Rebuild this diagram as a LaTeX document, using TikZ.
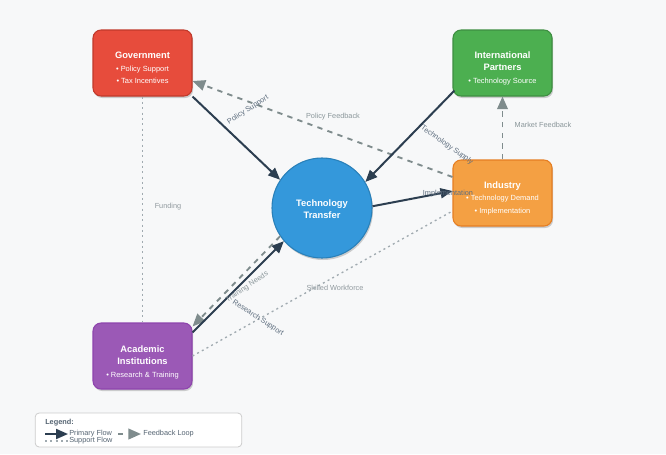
\documentclass[tikz,border=0pt]{standalone}
\usepackage{fontspec}
\setmainfont{Liberation Sans}
\usetikzlibrary{arrows.meta,calc,shadows}
\definecolor{bgc}{HTML}{F7F8F9}
\definecolor{govc}{HTML}{E74C3C}\definecolor{govb}{HTML}{C0392B}
\definecolor{ipc}{HTML}{4CAF50}\definecolor{ipb}{HTML}{3E8E41}
\definecolor{indc}{HTML}{F4A043}\definecolor{indb}{HTML}{E67E22}
\definecolor{acc}{HTML}{9B59B6}\definecolor{acb}{HTML}{8E44AD}
\definecolor{ttc}{HTML}{3498DB}\definecolor{ttb}{HTML}{2980B9}
\definecolor{darkc}{HTML}{2C3E50}
\definecolor{fbc}{HTML}{7F8C8D}
\definecolor{supc}{HTML}{A0AAB0}
\definecolor{plc}{HTML}{5D6D7E}
\definecolor{flc}{HTML}{8A969A}
\newcommand{\ttlfont}{\bfseries\fontsize{7}{9.4}\selectfont}
\begin{document}
\begin{tikzpicture}[x=0.75pt,y=-0.75pt,
  box/.style={rectangle, rounded corners=6pt, minimum width=74.25pt, minimum height=49.5pt, inner sep=0pt, line width=0.8pt,
    drop shadow={shadow xshift=0.8pt, shadow yshift=-1.5pt, opacity=0.18, fill=black}},
  boxtxt/.style={align=center, text=white, inner sep=0pt, font=\fontsize{5.6}{9.4}\selectfont},
  primary/.style={draw=darkc, line width=1.5pt, -{Triangle[length=9pt,width=7.5pt]}},
  feedback/.style={draw=fbc, line width=1.4pt, dash pattern=on 4pt off 4pt, -{Triangle[length=9.5pt,width=8pt]}},
  support/.style={draw=supc, line width=1pt, dash pattern=on 1.5pt off 2.5pt},
  plabel/.style={text=plc, inner sep=0pt, font=\fontsize{5.5}{6.5}\selectfont},
  flabel/.style={text=flc, inner sep=0pt, font=\fontsize{5.5}{6.5}\selectfont},
  slabel/.style={text=supc!90!black, inner sep=0pt, font=\fontsize{5.5}{6.5}\selectfont},
  lgtext/.style={text=darkc!80, inner sep=0pt, anchor=west, font=\fontsize{5.5}{6.5}\selectfont}
]
\fill[bgc] (0,0) rectangle (666,454);
\useasboundingbox (0,0) rectangle (666,454);

% nodes
\node[box, fill=govc, draw=govb] (gov) at (142.5,63) {};
\node[box, fill=ipc, draw=ipb] (ip) at (502.5,63) {};
\node[box, fill=indc, draw=indb] (ind) at (502.5,193) {};
\node[box, fill=acc, draw=acb] (acad) at (142.5,356) {};
\node[circle, fill=ttc, draw=ttb, line width=0.8pt, minimum size=75pt, inner sep=0pt,
  drop shadow={shadow xshift=0.8pt, shadow yshift=-1.5pt, opacity=0.18, fill=black}] (tt) at (322,208) {};

\node[boxtxt] (govt) at (142.5,68) {{\ttlfont Government}\\• Policy Support\\• Tax Incentives};
\node[boxtxt] (ipt) at (502.5,68) {{\ttlfont International}\\{\ttlfont Partners}\\• Technology Source};
\node[boxtxt] (indt) at (502.5,198) {{\ttlfont Industry}\\• Technology Demand\\• Implementation};
\node[boxtxt] (acadt) at (142.5,362) {{\ttlfont Academic}\\{\ttlfont Institutions}\\• Research \& Training};
\node[boxtxt] (ttt) at (322,209) {{\ttlfont Technology}\\{\ttlfont Transfer}};

% connectors
\draw[support] (gov.south) -- (acad.north);
\draw[support] (acad.east) -- ($(ind.west)+(0,18)$);
\draw[feedback] ($(ind.west)+(0,-16)$) -- ($(gov.east)+(0,18)$);
\draw[feedback] (ind.north) -- (ip.south);
\draw[feedback] (tt.214) -- ($(acad.north east)+(0,4)$);
\draw[primary] (gov.south east) -- (tt.146);
\draw[primary] ($(ip.south west)+(2,-6)$) -- (tt.31);
\draw[primary] (tt.2) -- ($(ind.west)+(0,-2)$);
\draw[primary] ($(acad.north east)+(0,10)$) -- (tt.221);

% labels
\node[plabel, rotate=33] (lps) at (248,110) {Policy Support};
\node[flabel] (lpf) at (333,117) {Policy Feedback};
\node[plabel, rotate=-35] (lts) at (447,145) {Technology Supply};
\node[flabel] (lmf) at (543,125) {Market Feedback};
\node[plabel] (lim) at (448,194) {Implementation};
\node[slabel] (lsw) at (335,288) {Skilled Workforce};
\node[slabel] (lfu) at (168,207) {Funding};
\node[plabel, rotate=-33] (lrs) at (258,318) {Research Support};
\node[flabel, rotate=34] (ltn) at (247,287) {Training Needs};

% legend
\node[draw=black!20, fill=white, rounded corners=3pt, line width=0.6pt, minimum width=155pt, minimum height=25.5pt, inner sep=0pt] (leg) at (138.5,430) {};
\node[lgtext, font=\bfseries\fontsize{5.5}{6.5}\selectfont] (legt) at (45,423) {Legend:};
\coordinate (a1) at (45,434); \coordinate (a2) at (68,434);
\coordinate (b1) at (118,434); \coordinate (b2) at (141,434);
\coordinate (c1) at (45,441); \coordinate (c2) at (68,441);
\draw[primary] (a1) -- (a2);
\draw[feedback] (b1) -- (b2);
\draw[support] (c1) -- (c2);
\node[lgtext] (lg1) at (69,434) {Primary Flow};
\node[lgtext] (lg2) at (143,434) {Feedback Loop};
\node[lgtext] (lg3) at (69,441) {Support Flow};
\end{tikzpicture}
\end{document}
